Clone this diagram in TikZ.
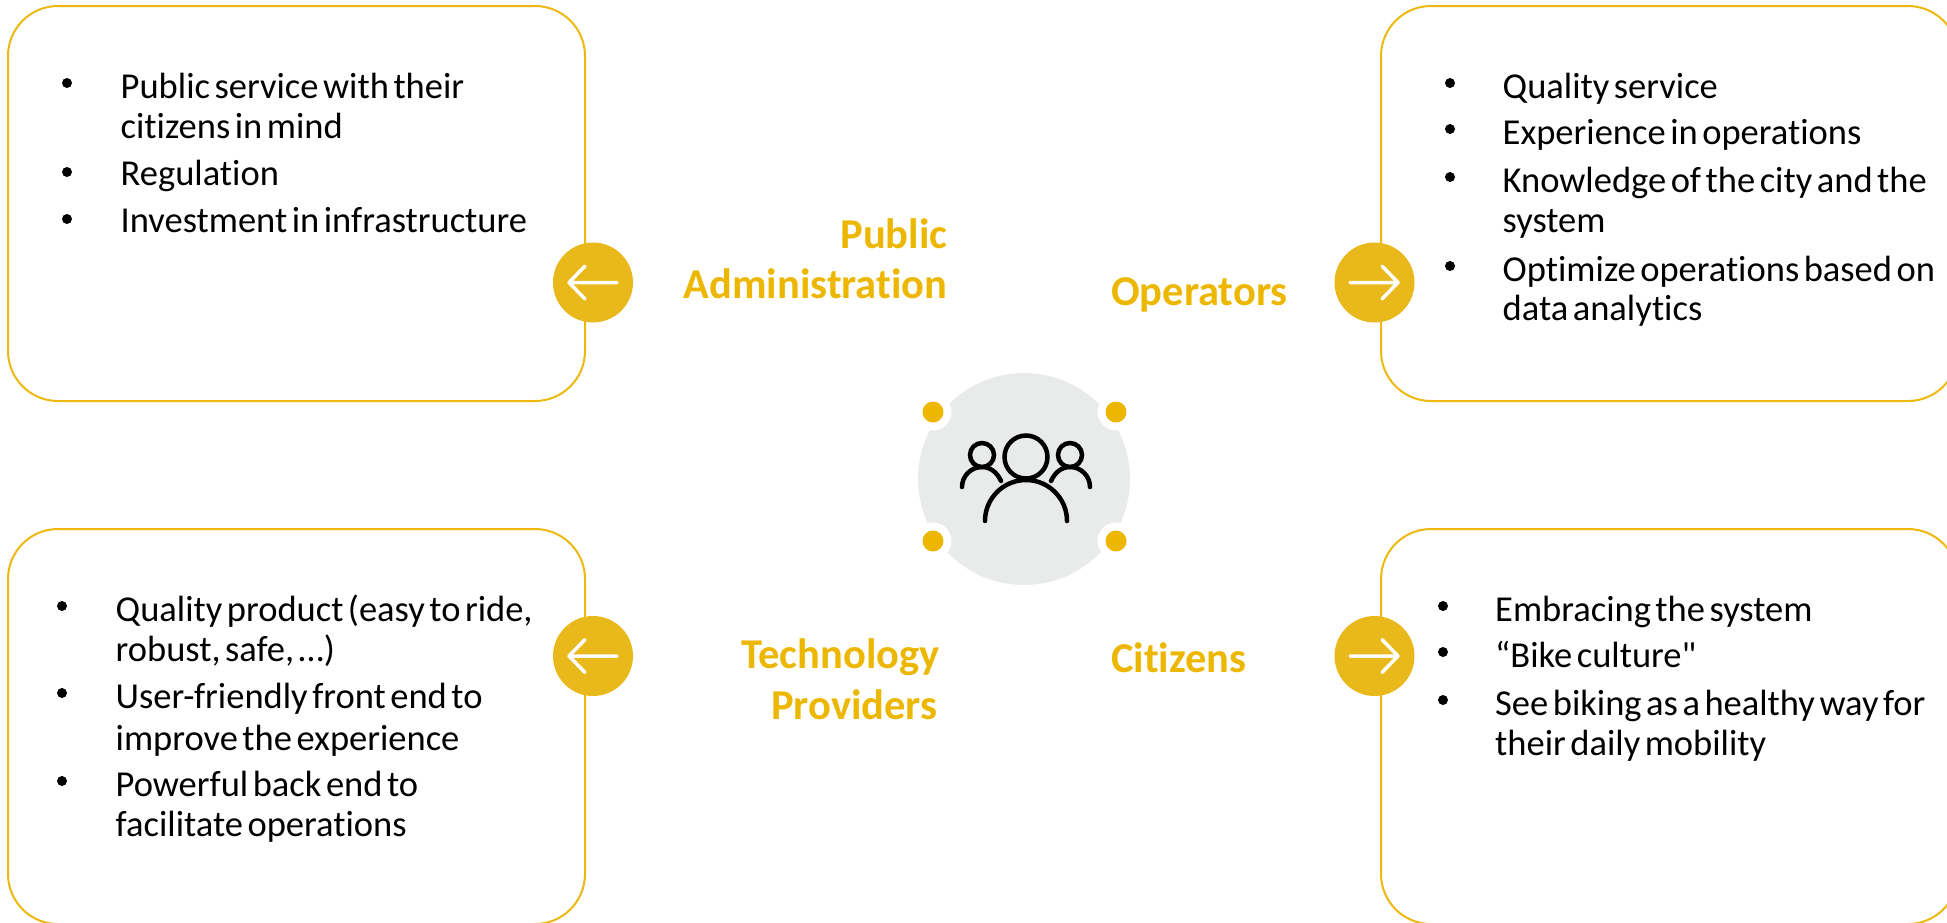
\documentclass[tikz,border=0pt]{standalone}
\usepackage{fontspec}
\setmainfont{Carlito}[Ligatures=NoCommon,WordSpace=0.55]
\newfontfamily\plainquote{Carlito}
\definecolor{lineY}{HTML}{EDB80F}
\definecolor{discY}{HTML}{E9B81B}
\definecolor{dotY}{HTML}{EDB700}
\definecolor{titleY}{HTML}{EDB700}
\definecolor{greyC}{HTML}{E9EBEA}
\tikzset{
  x=1pt,y=-1pt,
  card/.style={draw=lineY,line width=2pt,fill=white,rounded corners=50pt,minimum width=577pt,minimum height=395pt,inner sep=0pt},
  disc/.style={circle,fill=discY,minimum size=80pt,inner sep=0pt},
  whitearrow/.style={draw=white,line width=3.5pt,line cap=round,line join=round},
  ln/.style={anchor=base west,inner sep=0pt,font=\fontsize{36.5}{40}\selectfont,text=black},
  bul/.style={circle,fill=black,minimum size=10pt,inner sep=0pt},
  ttlR/.style={anchor=base east,inner sep=0pt,font=\fontsize{42.5}{48}\selectfont\bfseries,text=titleY},
  ttlL/.style={anchor=base west,inner sep=0pt,font=\fontsize{42.5}{48}\selectfont\bfseries,text=titleY},
  dotring/.style={circle,fill=white,minimum size=37pt,inner sep=0pt},
  dotc/.style={circle,fill=dotY,minimum size=21pt,inner sep=0pt},
  icon/.style={draw=black,line width=4.5pt,line cap=round},
  headring/.style={circle,draw=black,line width=4.5pt,inner sep=0pt},
}
\begin{document}
\begin{tikzpicture}
\useasboundingbox (0,0) rectangle (1947,922);
\clip (0,0) rectangle (1947,922);
% cards
\node[card] (cardA) at (296.5,203.5) {};
\node[card] (cardB) at (1669.5,203.5) {};
\node[card] (cardC) at (296.5,726.5) {};
\node[card] (cardD) at (1669.5,726.5) {};
% discs
\node[disc] (discA) at (593,282.5) {};
\node[disc] (discB) at (1374.5,282.5) {};
\node[disc] (discC) at (593,656) {};
\node[disc] (discD) at (1374.5,656) {};
\draw[whitearrow] (617,282.5) -- (569,282.5) (585,266) -- (569,282.5) -- (585,299);
\draw[whitearrow] (1350,282.5) -- (1398,282.5) (1382,266) -- (1398,282.5) -- (1382,299);
\draw[whitearrow] (617,656) -- (569,656) (585,639.5) -- (569,656) -- (585,672.5);
\draw[whitearrow] (1350,656) -- (1398,656) (1382,639.5) -- (1398,656) -- (1382,672.5);
% centre
\node[circle,fill=greyC,minimum size=212pt,inner sep=0pt] (hub) at (1024,479) {};
\node[dotring] (r1) at (933,412) {};
\node[dotring] (r2) at (1116,412) {};
\node[dotring] (r3) at (933,541) {};
\node[dotring] (r4) at (1116,541) {};
\node[dotc] (d1) at (933,412) {};
\node[dotc] (d2) at (1116,412) {};
\node[dotc] (d3) at (933,541) {};
\node[dotc] (d4) at (1116,541) {};
% people icon
\node[headring,minimum size=43pt] (headM) at (1026,457) {};
\node[headring,minimum size=24pt] (headL) at (982,455) {};
\node[headring,minimum size=24pt] (headR) at (1070,455) {};
\draw[icon] (985,521) .. controls (985,498.4) and (1003.4,480) .. (1026,480) .. controls (1048.6,480) and (1067,498.4) .. (1067,521);
\draw[icon] (962,487) .. controls (962,476) and (971,467) .. (982,467) .. controls (990,467) and (997,472) .. (1001,481);
\draw[icon] (1090,487) .. controls (1090,476) and (1081,467) .. (1070,467) .. controls (1062,467) and (1055,472) .. (1051,481);
% titles
\node[ttlR] (t1) at (947.5,248) {Public};
\node[ttlR] (t2) at (947.5,298) {Administration};
\node[ttlL] (t3) at (1111,305.5) {Operators};
\node[ttlR] (t4) at (940,668) {Technology};
\node[ttlR] (t5) at (937.5,719) {Providers};
\node[ttlL] (t6) at (1111,672) {Citizens};
% card A
\node[bul] (ba1) at (67,83) {};
\node[bul] (ba2) at (67,172) {};
\node[bul] (ba3) at (67,219) {};
\node[ln] (a1) at (120.5,98) {Public service with their};
\node[ln] (a2) at (120.5,138) {citizens in mind};
\node[ln] (a3) at (120.5,185) {Regulation};
\node[ln] (a4) at (120.5,232) {Investment in infrastructure};
% card B
\node[bul] (bb1) at (1450,83) {};
\node[bul] (bb2) at (1450,129) {};
\node[bul] (bb3) at (1450,177) {};
\node[bul] (bb4) at (1450,266) {};
\node[ln] (b1) at (1502.5,98) {Quality service};
\node[ln] (b2) at (1502.5,144) {Experience in operations};
\node[ln] (b3) at (1502.5,192.5) {Knowledge of the city and the};
\node[ln] (b4) at (1502.5,232) {system};
\node[ln] (b5) at (1502.5,281) {Optimize operations based on};
\node[ln] (b6) at (1502.5,320) {data analytics};
% card C
\node[bul] (bc1) at (62,606) {};
\node[bul] (bc2) at (62,693) {};
\node[bul] (bc3) at (62,781) {};
\node[ln] (c1) at (115.5,621) {Quality product (easy to ride,};
\node[ln] (c2) at (115.5,661) {robust, safe, …)};
\node[ln] (c3) at (115.5,708) {User-friendly front end to};
\node[ln] (c4) at (115.5,750) {improve the experience};
\node[ln] (c5) at (115.5,796) {Powerful back end to};
\node[ln] (c6) at (115.5,836) {facilitate operations};
% card D
\node[bul] (bd1) at (1443,606) {};
\node[bul] (bd2) at (1443,652) {};
\node[bul] (bd3) at (1443,700) {};
\node[ln] (d1t) at (1495,621) {Embracing the system};
\node[ln] (d2t) at (1495,667) {“Bike culture{\plainquote "}};
\node[ln] (d3t) at (1495,715) {See biking as a healthy way for};
\node[ln] (d4t) at (1495,755) {their daily mobility};
\end{tikzpicture}
\end{document}
